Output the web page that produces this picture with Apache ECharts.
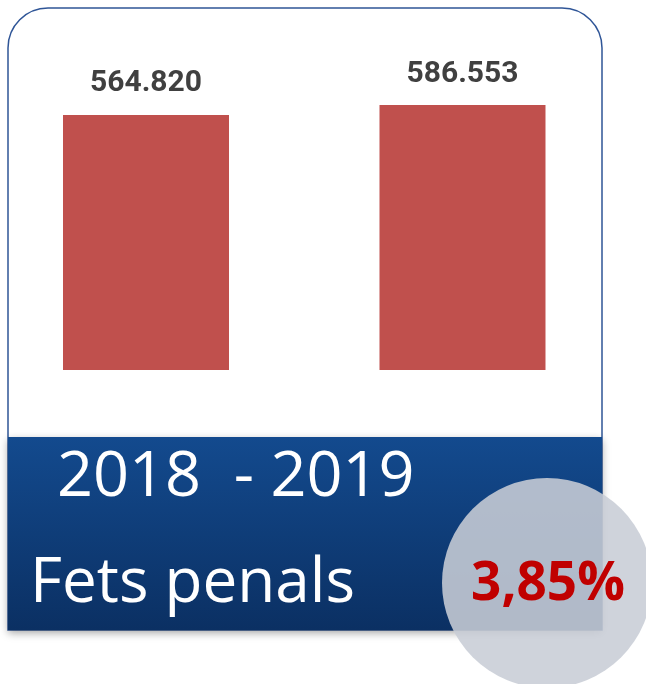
<!DOCTYPE html>
<html>
<head>
<meta charset="utf-8">
<script src="https://cdn.jsdelivr.net/npm/echarts@6/dist/echarts.min.js"></script>
<style>
  html, body { margin: 0; padding: 0; background: #fff; }
  #chart { width: 646px; height: 684px; }
</style>
</head>
<body>
<div id="chart"></div>
<script>
const years = ['2018', '2019'];
const values = [564820, 586553];
const periodText = '2018  - 2019';
const titleText = 'Fets penals';
const changeText = '3,85%';

// 564820 -> "564.820"
function fmt(v) {
  return String(v).replace(/\B(?=(\d{3})+(?!\d))/g, '.');
}

const chart = echarts.init(document.getElementById('chart'));
const option = {
  animation: false,
  grid: { left: 0, right: 0, top: 99, bottom: 314 },
  // value axis so the two bars sit where the card puts them
  xAxis: {
    type: 'value',
    min: -0.4613,
    max: 1.5798,
    show: false
  },
  yAxis: {
    type: 'value',
    min: 0,
    max: 600000,
    show: false
  },
  graphic: [
    {
      type: 'rect',
      z: -10,
      shape: { x: 8, y: 8, width: 594, height: 622, r: [40, 40, 0, 0] },
      style: { fill: '#fff', stroke: '#2f5597', lineWidth: 1.5 }
    },
    {
      type: 'rect',
      z: 10,
      shape: { x: 8, y: 437, width: 594, height: 193 },
      style: {
        fill: new echarts.graphic.LinearGradient(0, 0, 0, 1, [
          { offset: 0, color: '#134a8e' },
          { offset: 1, color: '#0b3063' }
        ]),
        shadowBlur: 8,
        shadowOffsetY: 3,
        shadowColor: 'rgba(0,0,0,0.35)'
      }
    },
    {
      type: 'text',
      z: 11,
      x: 57,
      y: 478,
      style: {
        text: periodText,
        fill: '#fff',
        font: '63px "Open Sans"',
        verticalAlign: 'middle'
      }
    },
    {
      type: 'text',
      z: 11,
      x: 30,
      y: 584,
      style: {
        text: titleText,
        fill: '#fff',
        font: '62px "Open Sans"',
        verticalAlign: 'middle'
      }
    },
    {
      type: 'circle',
      z: 12,
      shape: { cx: 547, cy: 583, r: 105 },
      style: { fill: 'rgba(200,205,214,0.88)' }
    },
    {
      type: 'text',
      z: 13,
      x: 548,
      y: 585,
      style: {
        text: changeText,
        fill: '#c00000',
        font: 'bold 53px "Open Sans"',
        align: 'center',
        verticalAlign: 'middle'
      }
    }
  ],
  series: [{
    type: 'bar',
    data: values.map((v, i) => [i, v]),
    barWidth: 166,
    itemStyle: { color: '#c0504d' },
    label: {
      show: true,
      position: 'top',
      distance: 16,
      formatter: p => fmt(p.value[1]),
      color: '#404040',
      fontFamily: 'Roboto',
      fontWeight: 'bold',
      fontSize: 30
    }
  }]
};
chart.setOption(option);
</script>
</body>
</html>
